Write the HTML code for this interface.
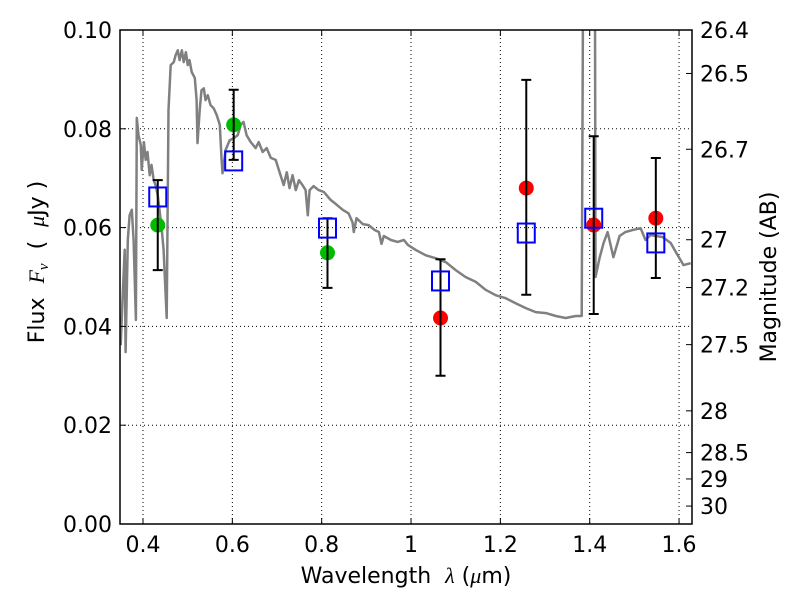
<!DOCTYPE html>
<html><head><meta charset="utf-8"><style>
html,body{margin:0;padding:0;background:#fff;}
svg text{font-family:"DejaVu Sans","Liberation Sans",sans-serif;font-size:22px;fill:#000;white-space:pre;}
</style></head><body>
<svg id="chart" width="800" height="600" xmlns="http://www.w3.org/2000/svg">
<rect width="800" height="600" fill="#fff"/>
<g id="grid"></g><g id="spec"></g><g id="marks"></g><g id="axes"></g>
</svg>
<script>
const specWl=[0.350,0.354,0.359,0.361,0.366,0.370,0.375,0.379,0.384,0.386,0.390,0.395,0.397,0.402,0.406,0.410,0.415,0.419,0.424,0.428,0.433,0.437,0.442,0.446,0.453,0.457,0.462,0.469,0.473,0.478,0.482,0.487,0.491,0.496,0.500,0.504,0.509,0.516,0.520,0.522,0.527,0.531,0.536,0.540,0.545,0.551,0.558,0.565,0.572,0.576,0.578,0.585,0.594,0.603,0.612,0.619,0.625,0.632,0.641,0.652,0.659,0.668,0.677,0.686,0.697,0.704,0.710,0.715,0.722,0.728,0.735,0.742,0.749,0.757,0.764,0.769,0.773,0.782,0.793,0.805,0.820,0.834,0.847,0.860,0.869,0.872,0.878,0.892,0.905,0.919,0.928,0.934,0.939,0.955,0.970,0.984,0.993,1.010,1.033,1.055,1.078,1.100,1.122,1.145,1.167,1.190,1.212,1.234,1.257,1.279,1.302,1.324,1.346,1.369,1.382,1.387,1.392,1.405,1.411,1.413,1.422,1.431,1.440,1.453,1.467,1.480,1.496,1.514,1.525,1.536,1.548,1.563,1.581,1.597,1.610,1.626];
const specFlux=[0.0362,0.0453,0.0555,0.0348,0.0575,0.0625,0.0636,0.0575,0.0413,0.0822,0.0787,0.0767,0.0717,0.0773,0.0737,0.0753,0.0706,0.0727,0.0696,0.0686,0.0666,0.0636,0.0595,0.0555,0.0417,0.0838,0.0929,0.0935,0.0949,0.0959,0.0939,0.0959,0.0935,0.0955,0.0929,0.0939,0.0915,0.0903,0.0858,0.0771,0.0838,0.0878,0.0882,0.0858,0.0868,0.0848,0.0842,0.0828,0.0808,0.0737,0.0710,0.0757,0.0777,0.0781,0.0787,0.0808,0.0814,0.0787,0.0773,0.0761,0.0773,0.0753,0.0761,0.0741,0.0737,0.0717,0.0700,0.0686,0.0712,0.0680,0.0706,0.0676,0.0696,0.0686,0.0676,0.0625,0.0676,0.0684,0.0676,0.0672,0.0656,0.0646,0.0636,0.0629,0.0611,0.0591,0.0619,0.0607,0.0605,0.0595,0.0591,0.0567,0.0583,0.0575,0.0571,0.0575,0.0565,0.0555,0.0544,0.0538,0.0530,0.0514,0.0500,0.0490,0.0474,0.0463,0.0457,0.0447,0.0437,0.0429,0.0427,0.0421,0.0417,0.0421,0.0421,0.1500,0.2000,0.2000,0.1500,0.0500,0.0538,0.0569,0.0591,0.0540,0.0583,0.0591,0.0595,0.0599,0.0575,0.0585,0.0583,0.0581,0.0569,0.0544,0.0524,0.0528];
const obsWl=[0.433,0.603,0.813,1.066,1.258,1.409,1.548];
const obsFlux=[0.0605,0.0808,0.0549,0.0417,0.0680,0.0605,0.0619];
const obsColor=["#00bb00","#00bb00","#00bb00","#ff0000","#ff0000","#ff0000","#ff0000"];
const errLo=[0.0514,0.0737,0.0478,0.0300,0.0464,0.0425,0.0498];
const errHi=[0.0696,0.0879,0.0619,0.0536,0.0899,0.0785,0.0741];
const modelFlux=[0.0662,0.0735,0.0599,0.0492,0.0589,0.0619,0.0569];
const xTicks=[0.4,0.6,0.8,1.0,1.2,1.4,1.6];
const xTickLabels=["0.4","0.6","0.8","1","1.2","1.4","1.6"];
const yTicks=[0,0.02,0.04,0.06,0.08,0.10];
const yTickLabels=["0.00","0.02","0.04","0.06","0.08","0.10"];
const magTicks=[26.4,26.5,26.7,27,27.2,27.5,28,28.5,29,30];
const magLabels=["26.4","26.5","26.7","27","27.2","27.5","28","28.5","29","30"];

const L=120,R=692,T=30,B=524,X0=0.3485,X1=1.629,Y0=0,Y1=0.1;
const sx=v=>L+(v-X0)/(X1-X0)*(R-L);
const sy=v=>B-(v-Y0)/(Y1-Y0)*(B-T);
const NS="http://www.w3.org/2000/svg";
function mk(tag,attrs,parent,text){const e=document.createElementNS(NS,tag);for(const k in attrs)e.setAttribute(k,attrs[k]);if(text!==undefined)e.textContent=text;document.getElementById(parent).appendChild(e);return e;}

const defs=document.createElementNS(NS,"defs");
defs.innerHTML='<clipPath id="pc"><rect x="'+L+'" y="'+T+'" width="'+(R-L)+'" height="'+(B-T)+'"/></clipPath>';
document.getElementById("chart").prepend(defs);

xTicks.forEach((v,i)=>{
  let g=mk("line",{x1:sx(v),x2:sx(v),y1:T,y2:B,stroke:"#000","stroke-dasharray":"1,3","stroke-width":1},"grid");
  
  
  mk("line",{x1:sx(v),x2:sx(v),y1:B,y2:B-6,stroke:"#000"},"axes");
  mk("line",{x1:sx(v),x2:sx(v),y1:T,y2:T+6,stroke:"#000"},"axes");
  let t=mk("text",{x:sx(v),y:B+28,"text-anchor":"middle"},"axes",xTickLabels[i]);
  
  
});
yTicks.forEach((v,i)=>{
  let g=mk("line",{x1:L,x2:R,y1:sy(v),y2:sy(v),stroke:"#000","stroke-dasharray":"1,3","stroke-width":1},"grid");
  
  
  mk("line",{x1:L,x2:L+6,y1:sy(v),y2:sy(v),stroke:"#000"},"axes");
  let t=mk("text",{x:L-8,y:sy(v)+8,"text-anchor":"end"},"axes",yTickLabels[i]);
  
  
});
magTicks.forEach((m,i)=>{
  const f=Math.pow(10,(23.9-m)/2.5);
  const y=sy(f);
  mk("line",{x1:R,x2:R-6,y1:y,y2:y,stroke:"#000"},"axes");
  let t=mk("text",{x:R+8,y:y+8,"text-anchor":"start"},"axes",magLabels[i]);
  
  
});

let d="";
specWl.forEach((w,i)=>{d+=(i?"L":"M")+sx(w).toFixed(1)+","+sy(specFlux[i]).toFixed(1);});
let sp=mk("path",{d:d,fill:"none",stroke:"#808080","stroke-width":2.5,"clip-path":"url(#pc)","stroke-linejoin":"round"},"spec");



obsWl.forEach((w,i)=>{
  const x=sx(w);
  let c=mk("circle",{cx:x,cy:sy(obsFlux[i]),r:7.5,fill:obsColor[i]},"marks");
  
  
  let e=mk("path",{d:"M"+x+","+sy(errLo[i])+"V"+sy(errHi[i])+"M"+(x-5)+","+sy(errLo[i])+"H"+(x+5)+"M"+(x-5)+","+sy(errHi[i])+"H"+(x+5),stroke:"#000","stroke-width":2,fill:"none"},"marks");
  
  
  let s=mk("rect",{x:x-8.5,y:sy(modelFlux[i])-9.5,width:17,height:19,fill:"none",stroke:"#0000ff","stroke-width":2},"marks");
  
  
});

let fr=mk("rect",{x:L,y:T,width:R-L,height:B-T,fill:"none",stroke:"#000","stroke-width":1.5},"axes");


let xt=mk("text",{x:406,y:583,"text-anchor":"middle"},"axes");
xt.innerHTML='Wavelength  <tspan font-style="italic" font-family="Liberation Serif, serif">λ</tspan> (<tspan font-style="italic" font-family="Liberation Serif, serif">μ</tspan>m)';


let yt=mk("text",{x:0,y:0,"text-anchor":"middle",transform:"translate(44,262) rotate(-90)"},"axes");
yt.innerHTML='Flux  <tspan font-style="italic" font-family="Liberation Serif, serif">F<tspan font-size="15" dy="4">ν</tspan></tspan><tspan dy="-4">  (  <tspan font-style="italic" font-family="Liberation Serif, serif">μ</tspan>Jy )</tspan>';


let rt=mk("text",{x:0,y:0,"text-anchor":"middle",transform:"translate(776,277) rotate(-90)"},"axes","Magnitude (AB)");


</script>
</body></html>
